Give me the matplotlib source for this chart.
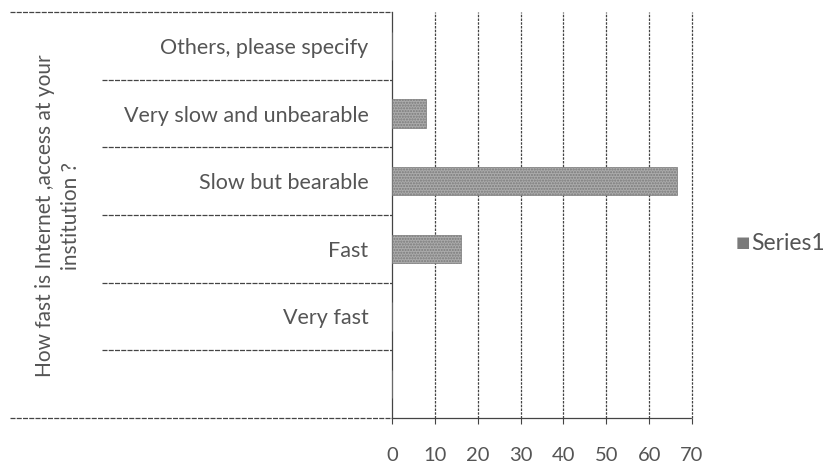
import matplotlib
matplotlib.use("Agg")
import matplotlib.pyplot as plt
import matplotlib.transforms as mtransforms
import numpy as np

# Data (bottom to top, as drawn)
CATEGORIES = ["", "Very fast", "Fast", "Slow but bearable",
              "Very slow and unbearable", "Others, please specify"]
VALUES = [0, 0, 16, 66.5, 8, 0]
X_TICKS = [0, 10, 20, 30, 40, 50, 60, 70]
OUTER_LABEL = "How fast is Internet ,access at your\ninstitution ?"
SERIES = "Series1"

plt.rcParams["font.family"] = ["Lato", "DejaVu Sans"]
TXT = "#555555"
LINE = "#444444"

fig = plt.figure(figsize=(8.32, 4.67), dpi=100)
W, H = 832, 467
x0, x1, ytop, ybot = 392, 692, 12, 418
ax = fig.add_axes([x0 / W, (H - ybot) / H, (x1 - x0) / W, (ybot - ytop) / H])

y = np.arange(len(CATEGORIES))
ax.barh(y, VALUES, height=0.42, color="#ababab", edgecolor="#7a7a7a",
        hatch="......", linewidth=0.5, zorder=3)

ax.set_xlim(0, 70)
ax.set_ylim(-0.5, len(CATEGORIES) - 0.5)
ax.set_xticks(X_TICKS)
ax.set_xticklabels([str(t) for t in X_TICKS], fontsize=14.5, color=TXT)
ax.set_yticks(y)
ax.set_yticklabels(CATEGORIES, fontsize=15.5, color=TXT)
ax.tick_params(axis="y", length=0, pad=17)
ax.tick_params(axis="x", length=4, color=LINE, pad=17)

for t in X_TICKS[1:]:
    ax.axvline(t, color=LINE, lw=0.9, ls=(0, (2, 1)), zorder=1, clip_on=False)

for s in ["top", "right"]:
    ax.spines[s].set_visible(False)
for s in ["left", "bottom"]:
    ax.spines[s].set_color(LINE)
    ax.spines[s].set_linewidth(0.9)
    ax.spines[s].set_linestyle((0, (3, 1)))

# Category separators extending into the label area
tr = mtransforms.blended_transform_factory(ax.transAxes, ax.transData)
x_inner = (102 - x0) / (x1 - x0)
x_outer = (10 - x0) / (x1 - x0)
for b in np.arange(0.5, len(CATEGORIES) - 1, 1.0):
    ax.plot([x_inner, 0], [b, b], transform=tr, color=LINE, lw=0.9,
            ls=(0, (4, 1)), clip_on=False)
ax.plot([x_outer, 0], [len(CATEGORIES) - 0.5] * 2, transform=tr, color=LINE,
        lw=0.9, ls=(0, (4, 1)), clip_on=False)
ax.plot([x_outer, 0], [-0.5, -0.5], transform=tr, color=LINE,
        lw=0.9, ls=(0, (4, 1)), clip_on=False)

# Outer category label
fig.text(58 / W, 1 - 216 / H, OUTER_LABEL, rotation=90, ha="center",
         va="center", fontsize=15, color=TXT, multialignment="center",
         linespacing=1.35)

# Legend
fig.text(743 / W, 1 - 243 / H, "\u25a0", fontsize=11, color="#7a7a7a",
         ha="center", va="center")
fig.text(751 / W, 1 - 243 / H, SERIES, fontsize=16.5, color=TXT,
         ha="left", va="center")

fig.savefig("out.png", dpi=100)
